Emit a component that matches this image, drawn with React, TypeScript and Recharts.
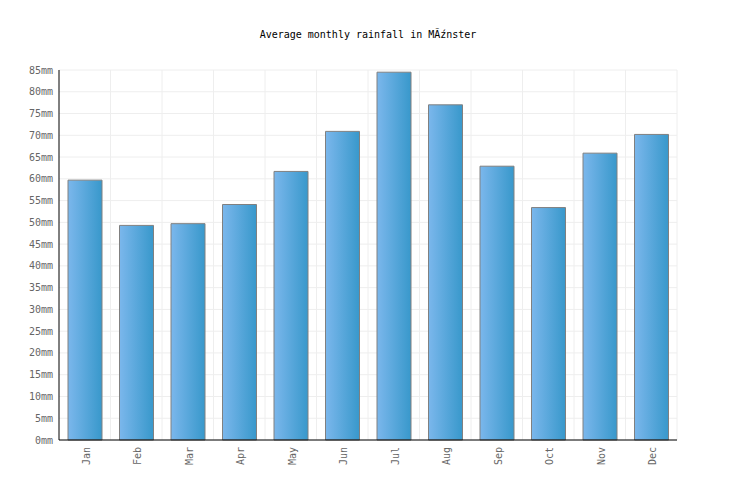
import { BarChart, Bar, XAxis, YAxis, CartesianGrid } from "recharts"

// ── Data ──
const MONTHS = ["Jan", "Feb", "Mar", "Apr", "May", "Jun", "Jul", "Aug", "Sep", "Oct", "Nov", "Dec"]
const RAINFALL = [59.7, 49.3, 49.7, 54.1, 61.7, 70.9, 84.5, 77.0, 62.9, 53.4, 65.9, 70.2]
const Y_TICKS = [0, 5, 10, 15, 20, 25, 30, 35, 40, 45, 50, 55, 60, 65, 70, 75, 80, 85]
const TITLE = "Average monthly rainfall in MÃźnster"

const FONT = "'DejaVu Sans Mono', monospace"

const data = MONTHS.map((m, i) => ({ month: m, rain: RAINFALL[i] }))

function MonthTick({ x, y, payload }: any) {
  return (
    <text
      x={x}
      y={y}
      transform={`rotate(-90, ${x}, ${y})`}
      dx={1}
      dy={5}
      textAnchor="end"
      fontSize={10}
      fontFamily={FONT}
      fill="#666"
    >
      {payload.value}
    </text>
  )
}

export default function App() {
  return (
    <div style={{ position: "fixed", left: 0, top: 0, width: 736, height: 500, background: "#fff" }}>
      <div
        style={{
          position: "absolute", top: 29, left: 0, width: 736, textAlign: "center",
          fontFamily: FONT, fontSize: 10, color: "#000",
        }}
      >
        {TITLE}
      </div>
      <BarChart
        width={736}
        height={500}
        data={data}
        margin={{ top: 70, right: 59, left: 9, bottom: 10 }}
        barSize={34}
      >
        <defs>
          <linearGradient id="barFill" x1="0" y1="0" x2="1" y2="0">
            <stop offset="0%" stopColor="#7bb7ec" />
            <stop offset="100%" stopColor="#3898cb" />
          </linearGradient>
        </defs>
        <CartesianGrid
          stroke="#eeeeee"
          verticalCoordinatesGenerator={({ offset }: any) =>
            MONTHS.map((_, i) => offset.left + ((i + 1) * offset.width) / MONTHS.length)
          }
        />
        <XAxis
          dataKey="month"
          height={50}
          tick={<MonthTick />}
          tickLine={false}
          axisLine={{ stroke: "#000" }}
          interval={0}
        />
        <YAxis
          width={50}
          domain={[0, 85]}
          ticks={Y_TICKS}
          interval={0}
          tickFormatter={(v) => `${v}mm`}
          tickLine={false}
          axisLine={{ stroke: "#000" }}
          tick={{ fontSize: 10, fontFamily: FONT, fill: "#666" }}
          tickMargin={0}
        />
        <Bar dataKey="rain" fill="url(#barFill)" stroke="#808080" strokeWidth={1} isAnimationActive={false} />
      </BarChart>
    </div>
  )
}
